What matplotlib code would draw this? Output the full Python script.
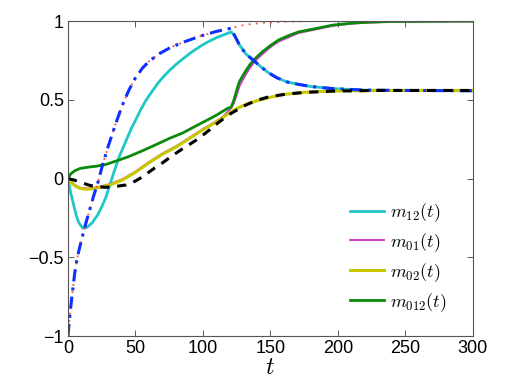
import matplotlib
matplotlib.use("Agg")
import matplotlib.pyplot as plt

plt.rcParams['font.family'] = ['Liberation Sans', 'DejaVu Sans']
plt.rcParams['mathtext.fontset'] = 'cm'

# values
t_cyan = [0, 2, 4, 6, 8, 11, 14, 18, 22, 25, 28, 31, 34, 38, 43, 47, 50, 54, 58, 62, 67, 71,
          75, 80, 85, 91, 98, 104, 110, 116, 121,
          124, 127, 132, 137, 143, 149, 155, 162, 170, 180, 196, 220, 250, 300]
m12 = [0, -0.09, -0.16, -0.23, -0.28, -0.315, -0.31, -0.28, -0.23, -0.18, -0.12, -0.04, 0.04,
       0.14, 0.24, 0.32, 0.37, 0.44, 0.5, 0.55, 0.61, 0.65, 0.685, 0.725, 0.76, 0.8, 0.84, 0.87,
       0.895, 0.915, 0.932,
       0.9, 0.85, 0.79, 0.755, 0.71, 0.67, 0.64, 0.615, 0.6, 0.585, 0.572, 0.562, 0.56, 0.558]

t_yel = [0, 3, 6, 9, 13, 18, 24, 31, 40, 50, 60, 70, 80, 90, 100, 110, 115, 120, 125, 133,
         140, 149, 160, 175, 186, 200, 230, 300]
m02 = [0, -0.03, -0.05, -0.062, -0.067, -0.065, -0.055, -0.04, -0.01, 0.04, 0.1, 0.155, 0.2,
       0.255, 0.31, 0.36, 0.39, 0.42, 0.445, 0.475, 0.495, 0.515, 0.535, 0.548, 0.553, 0.557,
       0.56, 0.56]

t_mag = [0, 3, 6, 9, 13, 18, 24, 31, 40, 50, 60, 70, 80, 90, 100, 110, 115, 121,
         123, 125, 127, 130, 134.5, 139, 144, 150, 156, 164, 171, 186, 196, 210, 221, 240, 300]
m01 = [0.005, -0.025, -0.045, -0.057, -0.062, -0.06, -0.05, -0.035, -0.005, 0.045, 0.105, 0.16,
       0.205, 0.26, 0.315, 0.365, 0.395, 0.45,
       0.48, 0.53, 0.585, 0.635, 0.7, 0.75, 0.79, 0.835, 0.87, 0.9, 0.925, 0.952, 0.97, 0.985,
       0.99, 0.997, 1.0]

t_grn = [0, 2, 5, 9, 15, 21, 28, 34, 45, 56, 65, 75, 85, 96, 105, 110, 118, 121,
         123, 125, 127, 130, 134.5, 139, 144, 150, 156, 164, 171, 186, 196, 210, 221, 240, 300]
m012 = [0, 0.03, 0.05, 0.065, 0.073, 0.079, 0.09, 0.107, 0.14, 0.18, 0.215, 0.255, 0.29, 0.34,
        0.38, 0.403, 0.445, 0.455,
        0.5, 0.56, 0.615, 0.66, 0.72, 0.765, 0.805, 0.845, 0.88, 0.91, 0.932, 0.957, 0.975,
        0.987, 0.993, 0.998, 1.0]

t_red = [0, 1, 2, 3, 4, 5, 6.5, 8, 10, 13, 16, 19, 22, 26, 30, 35, 40, 45, 50, 55, 60, 68, 76,
         85, 98, 110, 121, 132, 145, 160, 180, 300]
r_dot = [-1.0, -0.9, -0.82, -0.74, -0.67, -0.6, -0.52, -0.46, -0.39, -0.29, -0.2, -0.11, -0.03,
         0.1, 0.21, 0.34, 0.46, 0.56, 0.64, 0.7, 0.745, 0.795, 0.833, 0.865, 0.905, 0.935, 0.958,
         0.978, 0.99, 0.996, 1.0, 1.0]

t_blue = [0, 1, 2, 3, 4, 5, 6.5, 8, 10, 13, 16, 19, 22, 26, 30, 35, 40, 45, 50, 55, 60, 68, 76,
          85, 98, 110, 121, 124, 127, 132, 137, 143, 149, 155, 162, 170, 180, 196, 220, 250, 300]
b_dashdot = [-1.0, -0.9, -0.82, -0.74, -0.67, -0.6, -0.52, -0.46, -0.39, -0.29, -0.2, -0.11,
             -0.03, 0.1, 0.21, 0.34, 0.46, 0.56, 0.64, 0.7, 0.745, 0.795, 0.833, 0.865, 0.905,
             0.935, 0.955,
             0.9, 0.85, 0.79, 0.755, 0.71, 0.67, 0.64, 0.615, 0.6, 0.585, 0.572, 0.562, 0.56,
             0.558]

t_blk = [0, 5, 10, 15, 20, 28, 35, 43, 50, 55, 63, 70, 78, 85, 96, 105, 112, 120, 130, 139,
         149, 162, 176, 200, 230, 300]
k_dash = [0, -0.01, -0.025, -0.04, -0.05, -0.055, -0.05, -0.04, -0.015, 0.01, 0.06, 0.1, 0.15,
          0.19, 0.25, 0.31, 0.36, 0.41, 0.46, 0.495, 0.52, 0.537, 0.548, 0.557, 0.56, 0.56]

fig = plt.figure(figsize=(5.23, 3.85), dpi=100)
ax = fig.add_axes([0.130, 0.127, 0.774, 0.818])

ax.plot(t_cyan, m12, color='#1fc8c8', lw=2.0, label=r'$m_{12}(t)$')
ax.plot(t_mag, m01, color='#d43ad4', lw=1.4, label=r'$m_{01}(t)$')
ax.plot(t_yel, m02, color='#c8c800', lw=2.2, label=r'$m_{02}(t)$')
ax.plot(t_grn, m012, color='#0a8a0a', lw=2.0, label=r'$m_{012}(t)$')
ax.plot(t_red, r_dot, color='#ff4a3a', lw=1.3, ls=(0, (1, 3)))
ax.plot(t_blue, b_dashdot, color='#1030ff', lw=2.2, ls=(0, (4, 2, 1, 2)))
ax.plot(t_blk, k_dash, color='k', lw=2.2, ls=(0, (3, 2.5)))

ax.set_xlim(0, 300)
ax.set_ylim(-1, 1)
ax.set_xticks([0, 50, 100, 150, 200, 250, 300])
ax.set_yticks([-1, -0.5, 0, 0.5, 1])
ax.set_yticklabels(['\u22121', '\u22120.5', '0', '0.5', '1'])
ax.tick_params(direction='in', top=True, right=True, labelsize=13, length=4, width=0.6,
               color='#404040', pad=3)
for s in ax.spines.values():
    s.set_color('#555555')
    s.set_linewidth(0.8)

ax.set_xlabel(r'$t$', fontsize=17, labelpad=0)

leg = ax.legend(loc='lower right', bbox_to_anchor=(0.975, 0.02), frameon=False, fontsize=13,
                handlelength=1.9, labelspacing=0.4, handletextpad=0.3)

fig.savefig('out.png', dpi=100)
